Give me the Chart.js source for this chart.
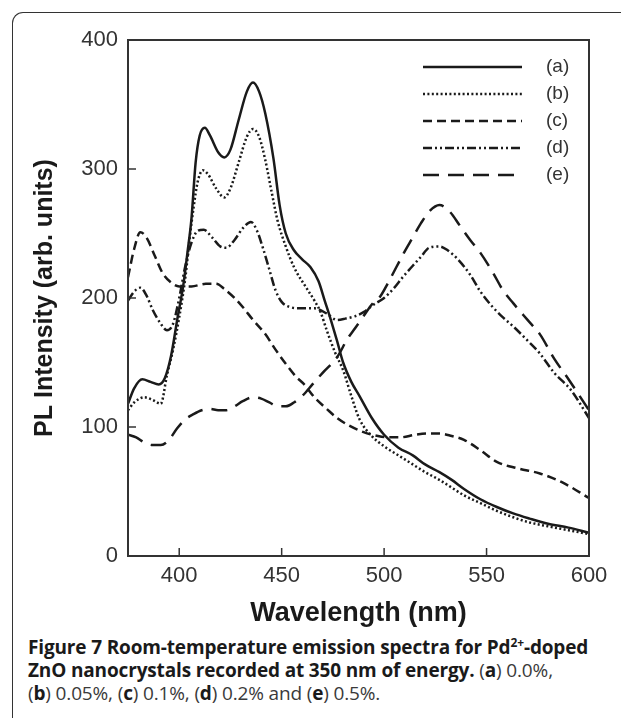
<!DOCTYPE html>
<html>
<head>
<meta charset="utf-8">
<script src="https://cdn.jsdelivr.net/npm/chart.js@4"></script>
<style>
  html, body { margin: 0; padding: 0; background: #fff; }
  body { width: 621px; height: 718px; position: relative; overflow: hidden; }
  .card { position: absolute; left: 12px; top: 12px; width: 800px; height: 800px;
          border-left: 1.5px solid #333; border-top: 1.5px solid #333; border-top-left-radius: 11px; }
  #wrap { position: absolute; left: 0; top: 0; width: 621px; height: 630px; }
  .caption { position: absolute; left: 28px; top: 636px; font-family: "Open Sans", sans-serif;
             font-size: 19px; line-height: 23px; color: #3a3a3a; white-space: nowrap; letter-spacing: -0.15px; }
  .caption b { color: #1a1a1a; font-weight: 700; }
  .caption sup { font-size: 12px; line-height: 0; }
</style>
</head>
<body>
<div class="card"></div>
<div id="wrap"><canvas id="grafico" width="621" height="630"></canvas></div>
<div class="caption">
  <b>Figure 7 Room-temperature emission spectra for Pd<sup>2+</sup>-doped</b><br>
  <b>ZnO nanocrystals recorded at 350 nm of energy.</b> (<b>a</b>) 0.0%,<br>
  (<b>b</b>) 0.05%, (<b>c</b>) 0.1%, (<b>d</b>) 0.2% and (<b>e</b>) 0.5%.
</div>
<script>
// Datos (longitud de onda en nm, intensidad PL)
const etiquetas = ["(a)", "(b)", "(c)", "(d)", "(e)"];
const xTicks = [400, 450, 500, 550, 600];
const yTicks = [0, 100, 200, 300, 400];

const aWl = [375, 378, 382, 386, 390, 393, 396, 399, 402, 404, 406, 408, 410, 412.5, 415, 419, 422, 425, 429, 433, 436, 439, 442, 446, 449, 452, 456, 460, 464, 468, 471, 474, 477, 480, 484, 488, 494, 500, 507, 514, 520, 527, 533, 539, 547, 555, 563, 571, 580, 590, 600];
const aPL = [118, 130, 137, 135, 133, 138, 155, 183, 210, 235, 262, 305, 326, 332, 326, 313, 309, 315, 338, 360, 367, 360, 343, 308, 272, 250, 237, 230, 224, 213, 198, 183, 167, 150, 135, 124, 107, 94, 84, 78, 71, 65, 59, 52, 44, 38, 33, 29, 25, 22, 18];

const bWl = [375, 378, 383, 387, 391, 394, 397, 400, 403, 405, 407, 409, 411.5, 414, 418, 422, 425, 429, 433, 436, 439, 442, 445, 448, 452, 456, 462, 466, 469, 472, 476, 480, 484, 488, 494, 500, 507, 514, 520, 527, 533, 539, 547, 555, 563, 571, 580, 590, 600];
const bPL = [113, 119, 123, 121, 118, 140, 160, 185, 216, 245, 270, 290, 299, 296, 285, 278, 285, 305, 325, 331, 325, 307, 283, 260, 240, 224, 208, 198, 189, 175, 158, 144, 124, 106, 93, 85, 78, 71, 65, 59, 53, 47, 41, 35, 30, 26, 23, 20, 17];

const cWl = [375, 378, 381, 384, 388, 392, 396, 400, 406, 413, 418, 422, 427, 431, 436, 442, 447, 452, 457, 461, 466, 472, 477, 483, 490, 497, 502, 508, 515, 521, 527, 533, 539, 547, 555, 565, 576, 587, 600];
const cPL = [216, 238, 251, 247, 233, 219, 212, 209, 209, 211, 211, 207, 200, 193, 183, 172, 160, 149, 139, 133, 123, 114, 107, 101, 96, 93, 92, 92, 94, 95, 95, 93, 90, 82, 73, 68, 64, 57, 45];

const dWl = [375, 378, 381, 384, 387, 391, 394, 397, 400, 403, 406, 409, 412, 416, 420, 423, 427, 431, 435, 438, 441, 444, 447, 450, 454, 460, 466, 472, 477, 481, 486, 490, 495, 500, 505, 509, 514, 518, 522, 527, 531, 536, 542, 547, 553, 558, 563, 570, 576, 583, 591, 600];
const dPL = [198, 205, 208, 202, 191, 180, 175, 180, 200, 225, 243, 252, 253, 247, 240, 239, 245, 254, 259, 252, 238, 222, 206, 197, 193, 192, 192, 188, 183, 184, 186, 189, 195, 200, 208, 216, 225, 232, 239, 240, 237, 230, 218, 205, 193, 185, 178, 167, 157, 142, 129, 107];

const eWl = [375, 379, 383, 387, 391, 395, 399, 403, 407, 411, 415, 419, 423, 427, 431, 436, 440, 444, 448, 452, 456, 460, 465, 470, 477, 482, 486, 490, 494, 498, 502, 506, 510, 514, 518, 522, 527, 532, 537, 542, 547, 553, 558, 563, 570, 576, 583, 590, 600];
const ePL = [94, 92, 88, 86, 86, 90, 99, 106, 110, 113, 114, 113, 113, 116, 120, 123, 122, 119, 116, 116, 119, 124, 133, 142, 154, 168, 177, 186, 195, 201, 212, 224, 236, 247, 258, 267, 272, 267, 256, 245, 235, 220, 206, 196, 183, 172, 153, 137, 113];

const estilos = [
  [],
  [2, 2.4],
  [9, 5],
  [9, 3, 2, 3, 2, 3],
  [16, 9]
];

const series = [[aWl, aPL], [bWl, bPL], [cWl, cPL], [dWl, dPL], [eWl, ePL]];
const tinta = "#1a1a1a";

const datasets = series.map(([wl, pl], i) => ({
  label: etiquetas[i],
  data: wl.map((x, k) => ({ x: x, y: pl[k] })),
  borderColor: tinta,
  borderWidth: 2.5,
  borderDash: estilos[i],
  pointRadius: 0,
  fill: false,
  cubicInterpolationMode: "monotone"
}));

// Marco, marcas interiores y leyenda
const decoraciones = {
  id: "decoraciones",
  afterDraw(chart) {
    const { ctx, chartArea: ca, scales } = chart;
    ctx.save();
    ctx.strokeStyle = "#333";
    ctx.lineWidth = 2;
    ctx.setLineDash([]);
    ctx.strokeRect(ca.left, ca.top, ca.right - ca.left, ca.bottom - ca.top);
    ctx.lineWidth = 1.5;
    xTicks.slice(0, -1).forEach(v => {
      const px = scales.x.getPixelForValue(v);
      ctx.beginPath(); ctx.moveTo(px, ca.bottom); ctx.lineTo(px, ca.bottom - 8); ctx.stroke();
    });
    yTicks.slice(1, -1).forEach(v => {
      const py = scales.y.getPixelForValue(v);
      ctx.beginPath(); ctx.moveTo(ca.left, py); ctx.lineTo(ca.left + 8, py); ctx.stroke();
    });
    // leyenda
    ctx.font = "19px 'Liberation Sans', Arial, sans-serif";
    ctx.fillStyle = "#333";
    ctx.textBaseline = "middle";
    chart.data.datasets.forEach((ds, i) => {
      const y = ca.top + 27 + 27 * i;
      const x0 = ca.right - 166, x1 = ca.right - 67;
      ctx.strokeStyle = tinta;
      ctx.lineWidth = 2.5;
      ctx.setLineDash(ds.borderDash);
      ctx.beginPath(); ctx.moveTo(x0, y); ctx.lineTo(x1, y); ctx.stroke();
      ctx.setLineDash([]);
      ctx.fillText(ds.label, ca.right - 43, y);
    });
    ctx.restore();
  }
};

const familia = "'Liberation Sans', Arial, sans-serif";
const fuenteTicks = { family: familia, size: 22 };

new Chart(document.getElementById("grafico").getContext("2d"), {
  type: "line",
  data: { datasets: datasets },
  options: {
    responsive: false,
    animation: false,
    layout: { padding: { left: 18, top: 40, right: 32, bottom: 0 } },
    plugins: { legend: { display: false }, tooltip: { enabled: false } },
    scales: {
      x: {
        type: "linear",
        min: 375,
        max: 600,
        afterBuildTicks: s => { s.ticks = xTicks.map(v => ({ value: v })); },
        afterFit: s => { s.height = 74; },
        grid: { display: false, drawTicks: false },
        border: { display: false },
        ticks: { font: fuenteTicks, color: "#333", padding: 7, maxRotation: 0 },
        title: { display: true, text: "Wavelength (nm)", font: { family: familia, size: 27, weight: "bold" }, color: "#1a1a1a", padding: { top: 0, bottom: 0 } }
      },
      y: {
        min: 0,
        max: 400,
        afterBuildTicks: s => { s.ticks = yTicks.map(v => ({ value: v })); },
        afterFit: s => { s.width = 110; },
        grid: { display: false, drawTicks: false },
        border: { display: false },
        ticks: { font: fuenteTicks, color: "#333", padding: 10 },
        title: { display: true, text: "PL Intensity (arb. units)", font: { family: familia, size: 25, weight: "bold" }, color: "#1a1a1a", padding: { top: 12, bottom: 0 } }
      }
    }
  },
  plugins: [decoraciones]
});
</script>
</body>
</html>
